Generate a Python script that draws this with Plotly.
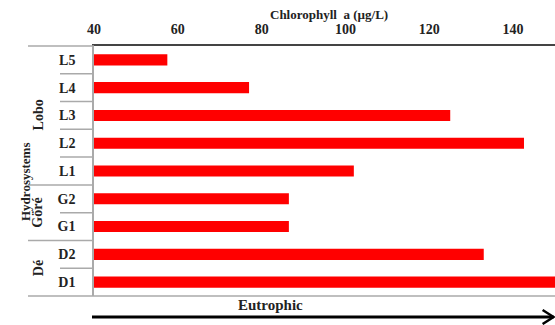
import plotly.graph_objects as go

sites = ["D1", "D2", "G1", "G2", "L1", "L2", "L3", "L4", "L5"]
chl = [155, 133, 86.5, 86.5, 102, 142.6, 125, 77, 57.5]
x_ticks = [40, 60, 80, 100, 120, 140]
groups = ["Dé", "Göré", "Lobo"]
group_rows = [(0, 1), (2, 3), (4, 8)]

FONT = "Liberation Serif"
W, H = 555, 325
L, R, T, B = 94, 0, 46, 29
PW, PH = W - L - R, H - T - B
n = len(sites)

fig = go.Figure(go.Bar(
    x=chl, y=sites, orientation="h", base=0,
    marker=dict(color="#ff0000", line=dict(width=0)),
    width=0.4,
    cliponaxis=True,
))

fig.update_layout(
    width=W, height=H,
    margin=dict(l=L, r=R, t=T, b=B, autoexpand=False),
    plot_bgcolor="white", paper_bgcolor="white",
    showlegend=False,
    xaxis=dict(
        side="top", range=[40, 150], tickvals=x_ticks,
        showgrid=False, zeroline=False, showline=True, automargin=False,
        linecolor="#444", linewidth=2, ticks="",
        tickfont=dict(family=FONT, size=14, color="#222", weight="bold"),
        ticklabelstandoff=4,
    ),
    yaxis=dict(
        categoryorder="array", categoryarray=sites,
        range=[-0.5, n - 0.5], automargin=False,
        showgrid=False, zeroline=False, showline=True,
        linecolor="#aaa", linewidth=1.5, ticks="",
        tickfont=dict(family=FONT, size=14, color="#222", weight="bold"),
        ticklabelstandoff=14,
    ),
)

def ypix_to_paper(yp):
    return (H - B - yp) / PH

def xpix_to_paper(xp):
    return (xp - L) / PW

shapes = []
for i in range(n + 1):
    yb = i / n
    is_group = i in (0, n) or any(i == g[0] for g in group_rows)
    x0 = xpix_to_paper(28 if is_group else 60)
    shapes.append(dict(type="line", xref="paper", yref="paper",
                       x0=x0, x1=0, y0=yb, y1=yb,
                       line=dict(color="#aaa", width=1.5)))
shapes.append(dict(type="line", xref="paper", yref="paper", x0=0, x1=1, y0=0, y1=0,
                   line=dict(color="#aaa", width=1.5)))
ya = ypix_to_paper(317)
shapes.append(dict(type="line", xref="paper", yref="paper",
                   x0=xpix_to_paper(92), x1=0.997, y0=ya, y1=ya,
                   line=dict(color="black", width=3)))
dx = 11 / PW
dy = 7 / PH
shapes.append(dict(type="path", xref="paper", yref="paper",
                   path=f"M {0.997-dx},{ya+dy} L 0.997,{ya} L {0.997-dx},{ya-dy}",
                   line=dict(color="black", width=2.5)))

def ann(text, xp, yp, size, angle=0):
    return dict(text=text, xref="paper", yref="paper",
                x=xpix_to_paper(xp), y=ypix_to_paper(yp),
                xanchor="center", yanchor="middle", textangle=angle, showarrow=False,
                font=dict(family=FONT, size=size, color="#222", weight="bold"))

annotations = []
for g, (a, b) in zip(groups, group_rows):
    yc_pix = H - B - (a + b + 1) / 2 / n * PH
    annotations.append(ann(g, 38, yc_pix, 14, -90))
annotations.append(ann("Hydrosystems", 25, 182, 13, -90))
annotations.append(ann("Chlorophyll  a (µg/L)", 329, 15, 13))
annotations.append(ann("Eutrophic", 270, 305, 15))

fig.update_layout(shapes=shapes, annotations=annotations)
fig.write_html("out.html", config={"displayModeBar": False},
               post_script="document.body.style.margin='0';")
